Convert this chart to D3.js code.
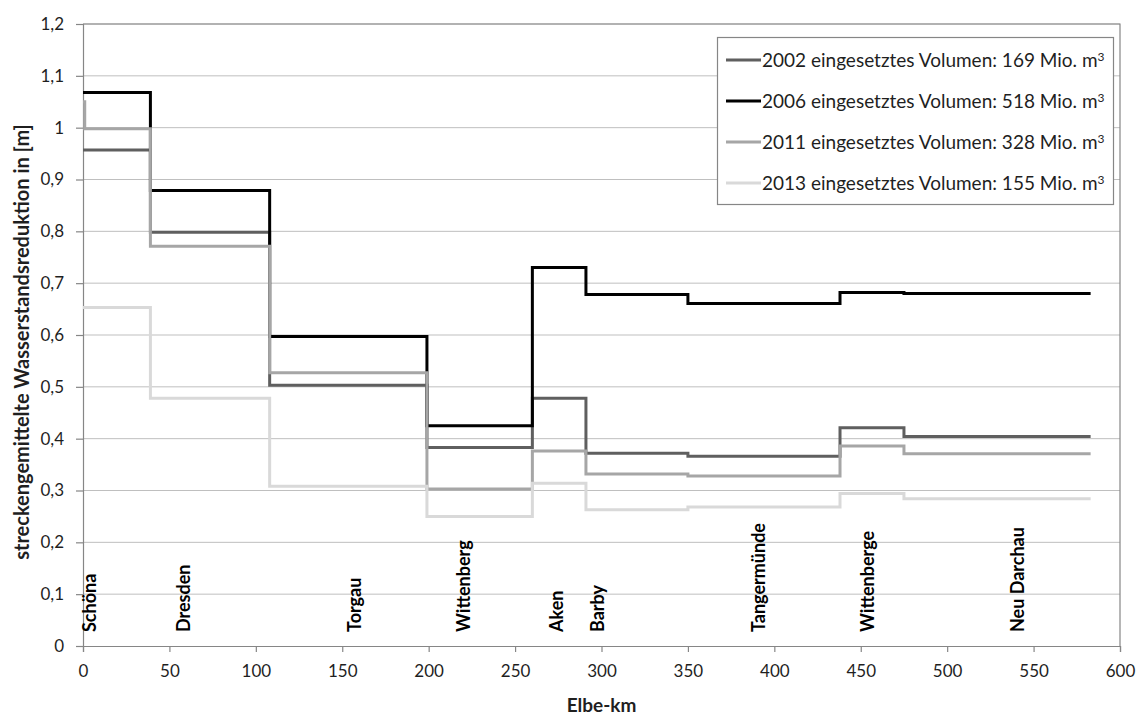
<!DOCTYPE html>
<html>
<head>
<meta charset="utf-8">
<script src="https://cdn.jsdelivr.net/npm/d3@7"></script>
<style>
  body { margin: 0; background: #fff; }
  svg { font-family: Lato, "Open Sans", sans-serif; }
  .tick text { fill: #1f1f1f; }
</style>
</head>
<body>
<div id="chart"></div>
<script>
// Elbe-km boundaries of the river sections (step starts) and the end point
const SECTION_KM = [0, 39, 108, 199, 260, 291, 350, 438, 475];
const END_KM = 583;

const YEARS = ["2002", "2006", "2011", "2013"];
const VOLUMES = [169, 518, 328, 155];

const VALUES_2002 = [0.957, 0.798, 0.503, 0.383, 0.478, 0.372, 0.366, 0.421, 0.404];
const VALUES_2006 = [1.068, 0.879, 0.597, 0.425, 0.730, 0.678, 0.661, 0.682, 0.680];
const VALUES_2011 = [0.998, 0.771, 0.527, 0.303, 0.376, 0.332, 0.328, 0.386, 0.371];
const VALUES_2013 = [0.653, 0.478, 0.308, 0.250, 0.314, 0.263, 0.268, 0.294, 0.284];

// station names along the river and their Elbe-km
const STATIONS = ["Schöna", "Dresden", "Torgau", "Wittenberg", "Aken", "Barby", "Tangermünde", "Wittenberge", "Neu Darchau"];
const STATION_KM = [4, 58, 157, 220, 274, 298, 391, 454, 541];

const X_TICKS = [0, 50, 100, 150, 200, 250, 300, 350, 400, 450, 500, 550, 600];
const Y_TICKS = [0, 0.1, 0.2, 0.3, 0.4, 0.5, 0.6, 0.7, 0.8, 0.9, 1.0, 1.1, 1.2];

const COLORS = ["#5f5f5f", "#000000", "#a6a6a6", "#d9d9d9"];

const width = 1137, height = 715;
const margin = {top: 24, right: 17, bottom: 69, left: 83};

const svg = d3.select("#chart").append("svg")
    .attr("width", width)
    .attr("height", height);

const x = d3.scaleLinear().domain([0, 600]).range([margin.left, width - margin.right]);
const y = d3.scaleLinear().domain([0, 1.2]).range([height - margin.bottom, margin.top]);

const fmt = d => d3.format(".1f")(d).replace(/\.0$/, "").replace(".", ",");

// gridlines
svg.append("g")
    .selectAll("line")
    .data(Y_TICKS.slice(1))
    .enter().append("line")
    .attr("x1", x(0)).attr("x2", x(600))
    .attr("y1", d => y(d)).attr("y2", d => y(d))
    .attr("stroke", "#bfbfbf")
    .attr("stroke-width", 1);

// plot area border (top and right)
svg.append("path")
    .attr("d", `M${x(0)},${y(1.2)}H${x(600)}V${y(0)}`)
    .attr("fill", "none")
    .attr("stroke", "#868686")
    .attr("stroke-width", 1.2);

// axes
const xAxis = svg.append("g")
    .attr("transform", `translate(0,${y(0)})`)
    .call(d3.axisBottom(x).tickValues(X_TICKS).tickSize(6).tickPadding(13));
const yAxis = svg.append("g")
    .attr("transform", `translate(${x(0)},0)`)
    .call(d3.axisLeft(y).tickValues(Y_TICKS).tickFormat(fmt).tickSize(7).tickPadding(12));

[xAxis, yAxis].forEach(a => {
    a.select(".domain").attr("stroke", "#868686").attr("stroke-width", 1.2);
    a.selectAll(".tick line").attr("stroke", "#868686").attr("stroke-width", 1.2);
    a.selectAll(".tick text").attr("font-size", 17).attr("font-family", "Lato, sans-serif");
});

// axis titles
svg.append("text")
    .attr("x", x(300)).attr("y", 712)
    .attr("text-anchor", "middle")
    .attr("font-weight", "bold")
    .attr("font-size", 19)
    .attr("fill", "#1f1f1f")
    .text("Elbe-km");

svg.append("text")
    .attr("transform", `translate(29,342) rotate(-90)`)
    .attr("text-anchor", "middle")
    .attr("font-weight", "bold")
    .attr("font-size", 20)
    .attr("fill", "#1f1f1f")
    .text("streckengemittelte Wasserstandsreduktion  in [m]");

// station labels
svg.append("g")
    .selectAll("text")
    .data(STATIONS)
    .enter().append("text")
    .attr("transform", (d, i) => `translate(${x(STATION_KM[i])},${y(0.027)}) rotate(-90)`)
    .attr("dy", "0.35em")
    .attr("font-weight", "bold")
    .attr("font-size", 18)
    .attr("fill", "#000")
    .text(d => d);

// step lines, drawn in series order so later years lie on top
const series = [VALUES_2002, VALUES_2006, VALUES_2011, VALUES_2013];
const line = d3.line()
    .x(d => x(d[0]))
    .y(d => y(d[1]))
    .curve(d3.curveStepAfter);

series.forEach((vals, k) => {
    let pts = SECTION_KM.map((km, i) => [km, vals[i]]);
    pts.push([END_KM, vals[vals.length - 1]]);
    if (YEARS[k] === "2011") {
        // short start value at Schöna
        pts = [[0, 1.05], [1, vals[0]]].concat(pts.slice(1));
    }
    svg.append("path")
        .datum(pts)
        .attr("d", line)
        .attr("fill", "none")
        .attr("stroke", COLORS[k])
        .attr("stroke-width", 3);
});

// legend
const legend = svg.append("g");
legend.append("rect")
    .attr("x", 717.5).attr("y", 37.5)
    .attr("width", 396).attr("height", 167)
    .attr("fill", "#fff")
    .attr("stroke", "#868686")
    .attr("stroke-width", 1.2);

YEARS.forEach((yr, k) => {
    const ly = 60 + k * 41;
    legend.append("line")
        .attr("x1", 726).attr("x2", 761)
        .attr("y1", ly).attr("y2", ly)
        .attr("stroke", COLORS[k])
        .attr("stroke-width", 3);
    const t = legend.append("text")
        .attr("x", 762).attr("y", ly)
        .attr("dy", "0.35em")
        .attr("font-size", 19)
        .attr("fill", "#1f1f1f");
    t.append("tspan").text(`${yr} eingesetztes Volumen: ${VOLUMES[k]} Mio. m`);
    t.append("tspan").attr("dy", "-0.45em").attr("font-size", 12).text("3");
});
</script>
</body>
</html>
